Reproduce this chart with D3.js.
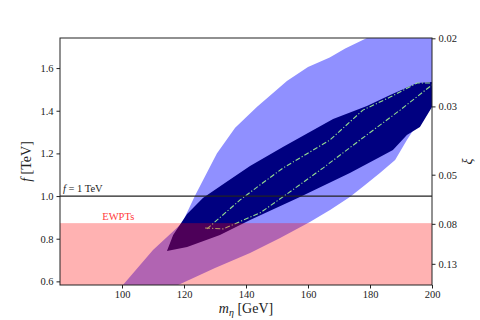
<!DOCTYPE html>
<html>
<head>
<meta charset="utf-8">
<script src="https://cdn.jsdelivr.net/npm/d3@7"></script>
<style>
    body { margin: 0; background: #fff; }
    svg text { font-family: 'Liberation Serif', 'DejaVu Serif', serif; fill: #222; }
    .label { font-size: 14px; }
</style>
</head>
<body>
<div id="chart"></div>
<script>
// m_eta [GeV], f [TeV] outline points
var lightRegion = [
    [100.3, 0.583], [110.0, 0.747], [119.4, 0.874], [123.5, 1.000], [130.6, 1.200],
    [136.5, 1.320], [143.5, 1.418], [153.2, 1.539], [160.0, 1.605], [167.0, 1.650],
    [172.0, 1.692], [179.0, 1.741], [200.0, 1.741], [200.0, 1.450], [196.1, 1.357],
    [191.9, 1.263], [188.1, 1.169], [183.2, 1.108], [178.4, 1.052], [173.5, 0.996],
    [167.1, 0.935], [160.6, 0.878], [151.0, 0.803], [141.3, 0.733], [130.0, 0.663],
    [118.1, 0.583]
];
var darkRegion = [
    [114.5, 0.742], [116.5, 0.817], [121.0, 0.916], [126.1, 0.991], [133.2, 1.061],
    [141.3, 1.141], [151.9, 1.230], [168.1, 1.361], [179.0, 1.422], [186.5, 1.474],
    [195.2, 1.530], [200.0, 1.535], [200.0, 1.417], [196.1, 1.324], [191.9, 1.286],
    [187.4, 1.216], [183.2, 1.183], [173.5, 1.108], [157.4, 0.996], [141.3, 0.888],
    [131.6, 0.817], [121.0, 0.761]
];
var upperLine = [
    [127.4, 0.846], [138.1, 0.982], [144.5, 1.052], [151.9, 1.131], [167.1, 1.263],
    [177.7, 1.403], [186.5, 1.464], [195.2, 1.530], [200.0, 1.530]
];
var lowerLine = [
    [126.8, 0.850], [132.6, 0.846], [144.5, 0.921], [151.9, 0.996], [164.8, 1.131],
    [176.8, 1.263], [189.7, 1.403], [200.0, 1.521]
];
var ewptF = 0.873;
var refF = 1.0;
var xTicks = [100, 120, 140, 160, 180, 200];
var yTicks = [0.6, 0.8, 1.0, 1.2, 1.4, 1.6];
var xiTicks = [0.02, 0.03, 0.05, 0.08, 0.13];
var vev = 0.246; // TeV, xi = v^2 / f^2

var WIDTH = 480, HEIGHT = 320;
var margin = {top: 38, right: 48, bottom: 35, left: 60};
var SERIF = "'Liberation Serif', 'DejaVu Serif', serif";

var svg = d3.select('#chart').append('svg')
    .attr('width', WIDTH)
    .attr('height', HEIGHT);

var x = d3.scaleLinear().domain([80, 200]).range([margin.left, WIDTH - margin.right]);
var y = d3.scaleLinear().domain([0.583, 1.741]).range([HEIGHT - margin.bottom, margin.top]);

svg.append('clipPath').attr('id', 'plot-clip')
    .append('rect')
    .attr('x', margin.left).attr('y', margin.top)
    .attr('width', x.range()[1] - x.range()[0])
    .attr('height', y.range()[0] - y.range()[1]);

var plot = svg.append('g').attr('clip-path', 'url(#plot-clip)');

var area = d3.line().x(function(d) { return x(d[0]); }).y(function(d) { return y(d[1]); });

plot.append('path').datum(lightRegion)
    .attr('d', function(d) { return area(d) + 'Z'; })
    .attr('fill', '#9090ff');

plot.append('path').datum(darkRegion)
    .attr('d', function(d) { return area(d) + 'Z'; })
    .attr('fill', '#000080');

[upperLine, lowerLine].forEach(function(line) {
    plot.append('path').datum(line)
        .attr('d', area)
        .attr('fill', 'none')
        .attr('stroke', '#94dc90')
        .attr('stroke-width', 1.1)
        .attr('stroke-dasharray', '5,2,1.2,2');
});

// EWPT excluded band
plot.append('rect')
    .attr('x', x(80))
    .attr('y', y(ewptF))
    .attr('width', x(200) - x(80))
    .attr('height', y(y.domain()[0]) - y(ewptF))
    .attr('fill', 'rgba(255,0,0,0.3)');

plot.append('line')
    .attr('x1', x(80)).attr('x2', x(200))
    .attr('y1', y(refF)).attr('y2', y(refF))
    .attr('stroke', '#222')
    .attr('stroke-width', 1.3);

svg.append('text')
    .attr('x', x(80) + 3).attr('y', y(refF) - 4)
    .style('font-size', '10.5px')
    .html('<tspan font-style="italic">f</tspan> = 1 TeV');

svg.append('text')
    .attr('x', x(98.8)).attr('y', y(ewptF) - 3)
    .attr('text-anchor', 'middle')
    .style('font-size', '10.5px')
    .style('fill', '#ff3b3b')
    .text('EWPTs');

// frame
svg.append('rect')
    .attr('x', margin.left).attr('y', margin.top)
    .attr('width', x.range()[1] - x.range()[0])
    .attr('height', y.range()[0] - y.range()[1])
    .attr('fill', 'none')
    .attr('stroke', '#222')
    .attr('stroke-width', 1);

var xAxis = svg.append('g')
    .attr('transform', 'translate(0,' + y.range()[0] + ')')
    .call(d3.axisBottom(x).tickValues(xTicks).tickSize(3.5).tickPadding(2).tickFormat(d3.format('d')));

var yAxis = svg.append('g')
    .attr('transform', 'translate(' + margin.left + ',0)')
    .call(d3.axisLeft(y).tickValues(yTicks).tickSize(3.5).tickPadding(3).tickFormat(d3.format('.1f')));

var xiAxis = svg.append('g')
    .attr('transform', 'translate(' + x.range()[1] + ',0)')
    .call(d3.axisRight(y)
        .tickValues(xiTicks.map(function(xi) { return vev / Math.sqrt(xi); }))
        .tickSize(3.5).tickPadding(3)
        .tickFormat(function(d, i) { return xiTicks[i].toFixed(2); }));

[xAxis, yAxis, xiAxis].forEach(function(g) {
    g.attr('font-family', SERIF).attr('font-size', 10.5);
    g.select('.domain').remove();
    g.selectAll('.tick line').attr('stroke', '#222');
    g.selectAll('.tick text').attr('fill', '#222');
});

svg.append('text').attr('class', 'label')
    .attr('x', (x.range()[0] + x.range()[1]) / 2)
    .attr('y', 313)
    .attr('text-anchor', 'middle')
    .html('<tspan font-style="italic">m</tspan><tspan font-style="italic" dy="3" font-size="10px">η</tspan><tspan dy="-3"> [GeV]</tspan>');

svg.append('text').attr('class', 'label')
    .attr('transform', 'translate(31,' + ((y.range()[0] + y.range()[1]) / 2) + ') rotate(-90)')
    .attr('text-anchor', 'middle')
    .html('<tspan font-style="italic">f</tspan> [TeV]');

svg.append('text').attr('class', 'label')
    .attr('transform', 'translate(472,' + ((y.range()[0] + y.range()[1]) / 2) + ') rotate(-90)')
    .attr('text-anchor', 'middle')
    .style('font-style', 'italic')
    .text('ξ');
</script>
</body>
</html>
